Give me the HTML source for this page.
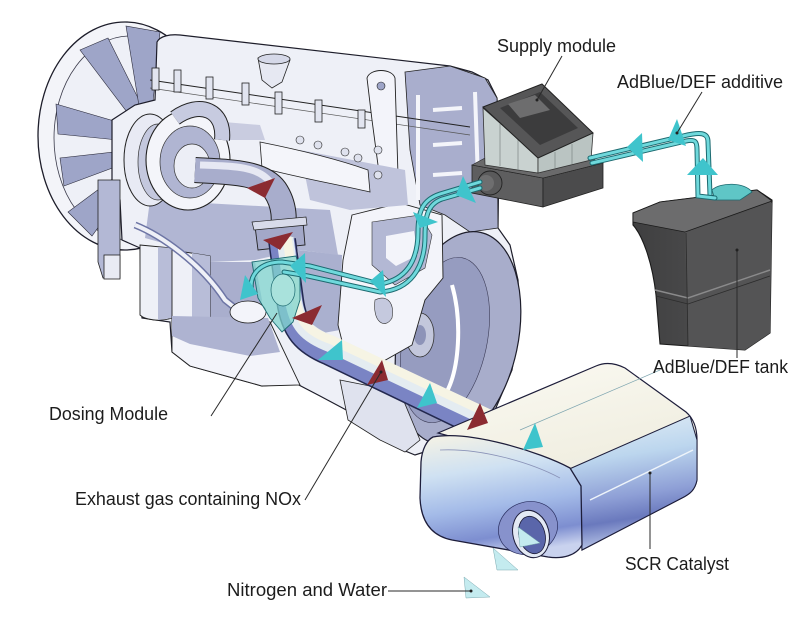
<!DOCTYPE html>
<html><head><meta charset="utf-8"><style>
html,body{margin:0;padding:0;background:#fff;}
svg{display:block}
text{font-family:"Liberation Sans",sans-serif;font-size:18px;fill:#1c1c1c}
</style></head><body>
<svg width="808" height="627" viewBox="0 0 808 627" xmlns="http://www.w3.org/2000/svg">
<defs>
<linearGradient id="catTop" x1="0" y1="0" x2="0.3" y2="1">
<stop offset="0" stop-color="#fbfaf3"/><stop offset="0.6" stop-color="#f1efe2"/><stop offset="1" stop-color="#dfe8f0"/>
</linearGradient>
<linearGradient id="catSide" x1="0" y1="0" x2="0.15" y2="1">
<stop offset="0" stop-color="#e4eef6"/><stop offset="0.35" stop-color="#bcd6ee"/><stop offset="0.65" stop-color="#8e9fd6"/><stop offset="0.82" stop-color="#6a79bd"/><stop offset="1" stop-color="#b6c3e6"/>
</linearGradient>
<linearGradient id="catCap" x1="0.2" y1="0" x2="0.4" y2="1">
<stop offset="0" stop-color="#f2f1e6"/><stop offset="0.3" stop-color="#cfe1f2"/><stop offset="0.6" stop-color="#a4bbe8"/><stop offset="0.85" stop-color="#7d8ed0"/><stop offset="1" stop-color="#c9d2ee"/>
</linearGradient>
<linearGradient id="tankG" x1="0" y1="0" x2="1" y2="0">
<stop offset="0" stop-color="#3f3f40"/><stop offset="1" stop-color="#565657"/>
</linearGradient>
</defs>

<!-- FAN -->
<ellipse cx="125" cy="136" rx="87" ry="114" fill="#f3f4f9" stroke="#1d1d2a" stroke-width="1.3"/>
<ellipse cx="130" cy="138" rx="76" ry="102" fill="#eef0f7" stroke="#3a3a4a" stroke-width="0.8"/>
<g fill="#9ea5c8" stroke="#2a2a3a" stroke-width="0.6">
<polygon points="80,50 108,38 148,118 136,124"/>
<polygon points="56,104 58,134 138,142 138,128"/>
<polygon points="60,158 64,186 134,160 132,150"/>
<polygon points="68,212 92,236 138,172 130,166"/>
<polygon points="126,26 160,32 152,112 140,112"/>
</g>

<!-- ENGINE BODY -->
<path d="M157,42 C160,36 170,34 180,35 L450,66 L472,72 L488,80 L497,98 L499,150 L498,228 L510,245 L518,280 L520,320 L512,370 L495,410 L470,435 L440,447 L415,455 L398,448 L385,430 L350,412 L320,396 L295,383 L262,386 L190,366 L172,352 L170,322 L142,318 L140,248 L122,240 L120,200 L112,190 L112,120 L135,105 L155,100 Z" fill="#eef0f7" stroke="#1d1d2a" stroke-width="1.2"/>

<!-- coolant pipe hanging -->
<path d="M98,180 L120,180 L120,278 L103,278 L98,262 Z" fill="#b3b8d5" stroke="#222" stroke-width="0.8"/>
<rect x="104" y="255" width="16" height="24" fill="#e9ebf4" stroke="#222" stroke-width="0.8"/>

<!-- rear timing plate -->
<path d="M405,72 L450,66 L485,78 L497,98 L498,228 L470,232 L445,215 L420,205 L410,150 Z" fill="#a9aecd" stroke="#222" stroke-width="0.8"/>
<g stroke="#f4f5fa" stroke-width="4" fill="none">
<line x1="418" y1="95" x2="418" y2="200"/><line x1="433" y1="110" x2="462" y2="108"/><line x1="433" y1="145" x2="462" y2="143"/><line x1="433" y1="175" x2="462" y2="173"/>
<line x1="475" y1="92" x2="478" y2="180"/>
</g>

<!-- flywheel -->
<ellipse cx="458" cy="338" rx="60" ry="108" transform="rotate(12 458 338)" fill="#a8adcb" stroke="#1d1d2a" stroke-width="1.2"/>
<ellipse cx="445" cy="340" rx="42" ry="84" transform="rotate(12 445 340)" fill="#969cc0" stroke="#3a3a55" stroke-width="0.6"/>
<path d="M452,285 C462,320 460,370 445,395" stroke="#ffffff" stroke-width="4" fill="none"/>
<ellipse cx="420" cy="335" rx="14" ry="22" fill="#c3c7dc" stroke="#333" stroke-width="0.8"/>
<ellipse cx="420" cy="335" rx="6" ry="10" fill="#8d93b8"/>

<!-- grey behind dosing area -->
<path d="M298,250 L342,255 L340,330 L312,335 L300,300 Z" fill="#aab0cf"/>

<!-- white boss block -->
<path d="M352,215 L400,203 L442,215 L443,278 L425,300 L412,345 L382,362 L348,365 L338,325 L343,260 Z" fill="#f3f4fa" stroke="#222" stroke-width="0.9"/>
<path d="M372,222 L420,215 L432,235 L425,268 L395,285 L372,265 Z" fill="#b3b8d4" stroke="#333" stroke-width="0.6"/>
<path d="M386,236 L414,231 L418,255 L396,266 L386,258 Z" fill="#f3f4fa"/>
<path d="M375,300 C385,295 395,300 392,318 C385,330 372,322 375,300 Z" fill="#c5c9de" stroke="#333" stroke-width="0.6"/>

<!-- lower bracket -->
<path d="M340,380 L400,392 L420,440 L405,452 L380,440 L348,420 Z" fill="#dfe2ee" stroke="#222" stroke-width="0.8"/>

<!-- valve cover / top -->
<path d="M150,80 L470,127" stroke="#222" stroke-width="1" fill="none"/>
<path d="M150,88 L470,135" stroke="#555" stroke-width="0.7" fill="none"/>
<g fill="#e2e5f0" stroke="#222" stroke-width="0.8">
<rect x="152" y="68" width="7" height="22"/><rect x="174" y="70" width="7" height="22"/><rect x="206" y="77" width="7" height="22"/>
<rect x="242" y="83" width="7" height="22"/><rect x="275" y="92" width="7" height="22"/><rect x="315" y="100" width="7" height="22"/><rect x="358" y="110" width="7" height="18"/>
</g>
<path d="M258,58 L290,60 L282,82 L272,88 L262,80 Z" fill="#e6e8f2" stroke="#222" stroke-width="0.8"/>
<ellipse cx="274" cy="59" rx="16" ry="5" fill="#d5d8e8" stroke="#222" stroke-width="0.8"/>
<!-- lifting eye -->
<path d="M367,78 C370,68 392,68 395,78 L398,175 L380,180 L372,120 Z" fill="#f3f4fa" stroke="#222" stroke-width="0.9"/>
<circle cx="381" cy="86" r="4" fill="#9ea5c8" stroke="#222" stroke-width="0.6"/>

<!-- mid shading -->
<path d="M150,200 L330,210 L338,255 L300,250 L255,260 L210,262 L170,245 L145,238 Z" fill="#b1b6d3"/>
<path d="M300,150 L405,170 L408,205 L350,210 L310,200 Z" fill="#bfc3db"/>
<path d="M200,120 L260,125 L265,140 L215,140 Z" fill="#c9cce0"/>
<path d="M185,262 L255,262 L262,300 L250,330 L210,330 L190,320 Z" fill="#a9aecd"/>
<!-- manifold white tube -->
<path d="M260,142 C300,150 340,160 368,170 L370,192 C340,185 300,178 262,168 Z" fill="#f4f5fa" stroke="#222" stroke-width="0.8"/>
<g fill="#dfe2ee" stroke="#222" stroke-width="0.6">
<circle cx="300" cy="140" r="4"/><circle cx="318" cy="145" r="4"/><circle cx="345" cy="152" r="4"/><circle cx="358" cy="158" r="4"/><circle cx="378" cy="150" r="4"/><circle cx="378" cy="175" r="4"/>
</g>

<!-- filters -->
<path d="M140,245 L172,248 L172,318 C160,322 145,320 140,315 Z" fill="#eef0f7" stroke="#222" stroke-width="0.9"/>
<path d="M158,247 L172,248 L172,318 L158,320 Z" fill="#b8bdd8"/>
<path d="M172,250 L210,256 L210,326 C195,330 180,328 172,323 Z" fill="#eef0f7" stroke="#222" stroke-width="0.9"/>
<path d="M192,253 L210,256 L210,326 L192,328 Z" fill="#b8bdd8"/>
<!-- oil pan -->
<path d="M172,318 L270,322 L300,385 L262,386 L190,366 L172,352 Z" fill="#f3f4fa" stroke="#222" stroke-width="0.9"/>
<path d="M172,316 L268,318 L280,352 L250,356 L190,344 L172,336 Z" fill="#aeb3d1"/>
<!-- small pipe across -->
<path d="M135,225 C160,235 200,262 225,300 L240,312" stroke="#6d75a5" stroke-width="7" fill="none"/>
<path d="M135,225 C160,235 200,262 225,300 L240,312" stroke="#eef0f7" stroke-width="4" fill="none"/>
<ellipse cx="248" cy="312" rx="18" ry="11" fill="#f3f4fa" stroke="#222" stroke-width="0.8"/>

<!-- TURBO -->
<ellipse cx="150" cy="160" rx="26" ry="46" fill="#e8eaf4" stroke="#222" stroke-width="1"/>
<ellipse cx="158" cy="162" rx="20" ry="38" fill="#c4c8de" stroke="#333" stroke-width="0.7"/>
<ellipse cx="188" cy="160" rx="42" ry="50" fill="#f4f5fa" stroke="#222" stroke-width="1.1"/>
<ellipse cx="190" cy="162" rx="30" ry="36" fill="#b0b5d2" stroke="#333" stroke-width="0.7"/>
<ellipse cx="192" cy="166" rx="18" ry="22" fill="#eceef6" stroke="#333" stroke-width="0.7"/>
<!-- intake pipe -->
<path d="M175,118 C200,100 225,110 222,140" stroke="#222" stroke-width="16" fill="none"/>
<path d="M175,118 C200,100 225,110 222,140" stroke="#c7cbe0" stroke-width="14" fill="none"/>
<!-- elbow pipe to flange -->
<path d="M195,170 C230,172 262,172 275,190 C285,205 285,220 282,236" stroke="#222" stroke-width="26" fill="none"/>
<path d="M195,170 C230,172 262,172 275,190 C285,205 285,220 282,236" stroke="#a8adcc" stroke-width="24" fill="none"/>
<path d="M200,165 C232,166 258,166 270,182" stroke="#e6e8f3" stroke-width="7" fill="none"/>
<!-- flange -->
<path d="M255,226 L303,222 L305,245 L258,250 Z" fill="#a3a8c8" stroke="#222" stroke-width="0.9"/>
<path d="M252,222 L306,217 L307,225 L254,230 Z" fill="#d8dbea" stroke="#222" stroke-width="0.7"/>

<!-- EXHAUST PIPE -->
<path d="M282,240 L290,300 C294,330 306,342 330,352 L492,430" stroke="#23284f" stroke-width="28" fill="none"/>
<path d="M282,240 L290,300 C294,330 306,342 330,352 L492,430" stroke="#7a84c4" stroke-width="25" fill="none"/>
<path d="M285,238 L293,298 C297,325 307,335 331,344 L494,421" stroke="#e4ecf1" stroke-width="17" fill="none"/>
<path d="M287,237 L295,296 C299,322 308,332 332,340 L496,417" stroke="#f6f4e4" stroke-width="9" fill="none"/>

<!-- DOSING MODULE -->
<path d="M252,262 L296,256 L300,270 L300,300 L293,322 L282,332 L270,318 L258,298 Z" fill="#7fd4cd" fill-opacity="0.75" stroke="#1c6a70" stroke-width="0.9"/>
<ellipse cx="283" cy="290" rx="12" ry="16" fill="#a9e2dc" stroke="#1c6a70" stroke-width="0.7"/>

<!-- CATALYST -->
<path d="M438,433 L596,366 C605,362 615,363 625,368 L686,412 C694,419 697,428 697,440 L697,480 C695,490 690,494 682,498 L582,550 L580,485 L567,468 Z" fill="url(#catTop)" stroke="#1d1d3a" stroke-width="1.2"/>
<path d="M567,470 L690,416 L697,440 L697,480 C695,490 690,494 682,498 L582,550 L580,485 Z" fill="url(#catSide)" stroke="#1d1d3a" stroke-width="1"/>
<line x1="520" y1="430" x2="660" y2="370" stroke="#7fa6b0" stroke-width="0.7"/>
<line x1="590" y1="500" x2="693" y2="450" stroke="#eef4fa" stroke-width="1.5"/>
<path d="M433,437 C470,430 540,452 570,468 L581,486 L582,545 C576,556 562,559 548,557 L452,540 C432,536 421,522 420,498 L421,462 C422,449 427,440 433,437 Z" fill="url(#catCap)" stroke="#1d1d3a" stroke-width="1.3"/>
<path d="M440,450 C480,448 530,462 560,478" stroke="#8a93b8" stroke-width="0.8" fill="none"/>
<ellipse cx="528" cy="528" rx="30" ry="26" transform="rotate(-20 528 528)" fill="#8792cc" stroke="#2a2f60" stroke-width="0.7"/>
<ellipse cx="531" cy="534" rx="18" ry="24" transform="rotate(-15 531 534)" fill="#e3e9f4" stroke="#1d1d3a" stroke-width="1"/>
<ellipse cx="532" cy="535" rx="13" ry="19" transform="rotate(-15 532 535)" fill="#5a66aa" stroke="#1d1d3a" stroke-width="0.8"/>

<!-- SUPPLY MODULE -->
<path d="M472,165 L543,178 L543,207 L472,193 Z" fill="#5e5e5f" stroke="#222" stroke-width="0.8"/>
<path d="M543,178 L603,163 L603,188 L543,207 Z" fill="#4b4b4c" stroke="#222" stroke-width="0.8"/>
<path d="M472,165 L485,158 L590,158 L603,163 L543,178 Z" fill="#6a6a6b" stroke="#222" stroke-width="0.6"/>
<path d="M483,108 L538,157 L538,173 L485,165 Z" fill="#c9d2d0" stroke="#333" stroke-width="0.8"/>
<path d="M538,157 L593,133 L591,160 L538,173 Z" fill="#bac4c2" stroke="#333" stroke-width="0.8"/>
<g stroke="#7b8583" stroke-width="0.7"><line x1="500" y1="122" x2="500" y2="166"/><line x1="518" y1="138" x2="518" y2="170"/><line x1="555" y1="152" x2="555" y2="168"/><line x1="572" y1="144" x2="572" y2="164"/></g>
<path d="M483,107 L542,84 L593,133 L538,158 Z" fill="#565657" stroke="#222" stroke-width="1"/>
<path d="M500,108 L540,92 L578,128 L540,145 Z" fill="#3c3c3d"/>
<path d="M508,104 L535,95 L550,110 L520,118 Z" fill="#6d6d6e"/>
<circle cx="490" cy="183" r="12" fill="#5a5a5b" stroke="#222" stroke-width="0.9"/>
<circle cx="486" cy="183" r="8" fill="#6e6e6f"/>

<!-- TANK -->
<path d="M633,213 L660,202 L757,190 L772,200 L770,333 L745,350 L660,344 L656,295 C652,260 642,235 633,225 Z" fill="url(#tankG)" stroke="#1a1a1a" stroke-width="1.1"/>
<path d="M685,232 L772,203 L770,333 L745,350 L688,346 Z" fill="#545455"/>
<path d="M633,213 L660,202 L757,190 L772,201 L685,232 L633,222 Z" fill="#6c6c6d" stroke="#1a1a1a" stroke-width="0.8"/>
<path d="M655,290 L688,298 L770,270" stroke="#8a8a8b" stroke-width="1.5" fill="none"/>
<path d="M656,296 L688,304 L770,276" stroke="#2c2c2c" stroke-width="0.8" fill="none"/>
<line x1="686" y1="233" x2="688" y2="346" stroke="#2a2a2a" stroke-width="0.8"/>
<path d="M712,190 C720,182 745,182 752,192 L740,200 L715,200 Z" fill="#5fc6c6" stroke="#1c6a70" stroke-width="0.8"/>

<!-- CYAN PIPES -->
<g fill="none" stroke-linecap="round">
<path d="M590,158 L683,136 C700,132 708,132 708,142 L710,195" stroke="#1c6a70" stroke-width="5"/>
<path d="M590,158 L683,136 C700,132 708,132 708,142 L710,195" stroke="#6fd9dc" stroke-width="3"/>
<path d="M592,163 L686,141 C696,139 697,142 697,150 L698,196 L715,198" stroke="#1c6a70" stroke-width="5"/>
<path d="M592,163 L686,141 C696,139 697,142 697,150 L698,196 L715,198" stroke="#6fd9dc" stroke-width="3"/>
<path d="M480,182 L440,194 C422,200 418,212 418,232 C418,262 405,280 380,284 L310,266 L282,262 C260,262 248,275 252,292" stroke="#1c6a70" stroke-width="5"/>
<path d="M480,182 L440,194 C422,200 418,212 418,232 C418,262 405,280 380,284 L310,266 L282,262 C260,262 248,275 252,292" stroke="#6fd9dc" stroke-width="3"/>
<path d="M480,188 L442,199 C428,204 425,216 425,236 C425,268 410,290 380,292 L308,276 L284,272" stroke="#1c6a70" stroke-width="5"/>
<path d="M480,188 L442,199 C428,204 425,216 425,236 C425,268 410,290 380,292 L308,276 L284,272" stroke="#6fd9dc" stroke-width="3"/>
</g>

<!-- CYAN TRIANGLES -->
<g fill="#3fc4cc">
<polygon points="627,147 642,133 643,162"/>
<polygon points="668,140 677,119 686,146"/>
<polygon points="687,175 703,158 718,175"/>
<polygon points="456,195 463,176 476,203"/>
<polygon points="413,212 438,222 420,228"/>
<polygon points="370,281 383,270 386,297"/>
<polygon points="290,266 305,253 306,283"/>
<polygon points="240,300 245,275 258,294"/>
<polygon points="318,360 342,340 343,360"/>
<polygon points="417,408 430,383 437,403"/>
<polygon points="523,450 535,423 543,447"/>
</g>
<g fill="#c4ebef" stroke="#7aa9b0" stroke-width="0.5">
<polygon points="518,527 520,547 540,543"/>
<polygon points="493,548 497,570 518,570"/>
<polygon points="464,577 466,598 490,597"/>
</g>
<!-- RED TRIANGLES -->
<g fill="#8b2b31">
<polygon points="247,188 275,178 265,198"/>
<polygon points="263,240 293,232 280,250"/>
<polygon points="292,318 322,305 312,325"/>
<polygon points="367,385 382,360 388,380"/>
<polygon points="467,430 480,403 488,423"/>
</g>

<!-- LEADER LINES -->
<g stroke="#2a2a2a" stroke-width="1" fill="none">
<line x1="562" y1="56" x2="537" y2="100"/>
<line x1="702" y1="92" x2="677" y2="133"/>
<line x1="737" y1="250" x2="737" y2="358"/>
<line x1="211" y1="416" x2="277" y2="313"/>
<line x1="305" y1="500" x2="381" y2="372"/>
<line x1="650" y1="473" x2="650" y2="549"/>
<line x1="388" y1="591" x2="471" y2="591"/>
</g>
<g fill="#222"><circle cx="537" cy="100" r="1.5"/><circle cx="677" cy="133" r="1.5"/><circle cx="737" cy="250" r="1.5"/><circle cx="650" cy="473" r="1.5"/><circle cx="381" cy="372" r="1.5"/><circle cx="471" cy="591" r="1.5"/></g>

<!-- LABELS -->
<text x="497" y="52" textLength="119" lengthAdjust="spacingAndGlyphs">Supply module</text>
<text x="617" y="88" textLength="166" lengthAdjust="spacingAndGlyphs">AdBlue/DEF additive</text>
<text x="653" y="373" textLength="135" lengthAdjust="spacingAndGlyphs">AdBlue/DEF tank</text>
<text x="49" y="420" textLength="119" lengthAdjust="spacingAndGlyphs">Dosing Module</text>
<text x="75" y="505" textLength="226" lengthAdjust="spacingAndGlyphs">Exhaust gas containing NOx</text>
<text x="625" y="570" textLength="104" lengthAdjust="spacingAndGlyphs">SCR Catalyst</text>
<text x="227" y="596" textLength="160" lengthAdjust="spacingAndGlyphs">Nitrogen and Water</text>
</svg>
</body></html>
